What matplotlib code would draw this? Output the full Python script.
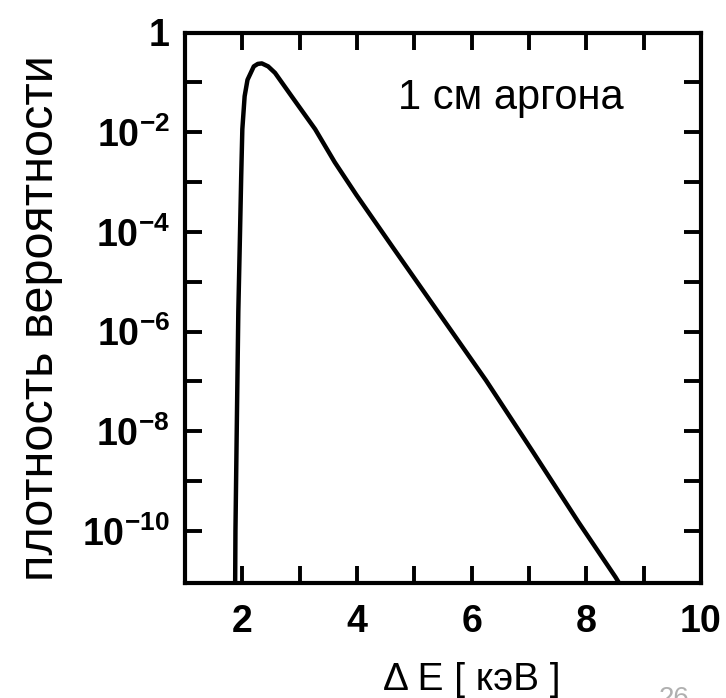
import matplotlib
matplotlib.use("Agg")
import matplotlib.pyplot as plt
from matplotlib import font_manager, ticker

# Data (energy loss in keV, log10 of probability density)
energy_kev = [1.87, 1.88, 1.90, 1.93, 1.96, 1.98, 2.00, 2.04, 2.09, 2.20, 2.27,
              2.34, 2.45, 2.57, 2.86, 3.27, 3.61, 3.99, 4.63, 5.44, 6.25,
              7.06, 7.86, 8.51, 8.60]
log10_density = [-12.0, -10.0, -8.2, -5.6, -4.0, -2.9, -1.94, -1.28, -0.95, -0.68,
                 -0.63, -0.62, -0.68, -0.81, -1.28, -1.94, -2.60, -3.26, -4.32,
                 -5.65, -6.98, -8.40, -9.82, -10.93, -11.1]

x_major = [2, 4, 6, 8, 10]
x_minor = [3, 5, 7, 9]
y_major = [1, 1e-2, 1e-4, 1e-6, 1e-8, 1e-10]
y_major_labels = ["1", r"$10^{-2}$", r"$10^{-4}$", r"$10^{-6}$", r"$10^{-8}$", r"$10^{-10}$"]
y_minor = [1e-1, 1e-3, 1e-5, 1e-7, 1e-9]

annotation = "1 см аргона"
xlabel = "Δ E [ кэВ ]"
ylabel = "плотность вероятности"
page_number = "26"

names = {f.name for f in font_manager.fontManager.ttflist}
narrow = 'Liberation Sans Narrow' if 'Liberation Sans Narrow' in names else 'Liberation Sans'

plt.rcParams['font.family'] = ['Liberation Sans', 'DejaVu Sans']
plt.rcParams['mathtext.default'] = 'regular'

W, H = 726, 698
fig = plt.figure(figsize=(W / 100, H / 100), dpi=100)
left, right, top, bottom = 185, 701, 32.5, 583
ax = fig.add_axes([left / W, 1 - bottom / H, (right - left) / W, (bottom - top) / H])

density = [10.0 ** v for v in log10_density]
ax.plot(energy_kev, density, color='black', lw=3.2, solid_joinstyle='round',
        solid_capstyle='round')

ax.set_yscale('log')
ax.set_xlim(1, 10)
ax.set_ylim(9e-12, 1)

tick_font = dict(family=[narrow, 'Liberation Sans', 'DejaVu Sans'], weight='bold', size=27)

ax.set_xticks(x_major)
ax.set_xticklabels([str(v) for v in x_major], **tick_font)
ax.set_xticks(x_minor, minor=True)
ax.set_yticks(y_major)
ax.set_yticklabels(y_major_labels, **tick_font)
ax.set_yticks(y_minor, minor=True)
ax.yaxis.set_minor_formatter(ticker.NullFormatter())
ax.xaxis.set_minor_formatter(ticker.NullFormatter())

for which in ('major', 'minor'):
    ax.tick_params(axis='both', which=which, direction='in', length=12, width=2.8,
                   top=True, right=True, color='black')
ax.tick_params(axis='x', which='major', pad=15)
ax.tick_params(axis='y', which='major', pad=11)

for s in ax.spines.values():
    s.set_linewidth(3.0)

ax.set_xlabel(xlabel, fontsize=28)
ax.xaxis.set_label_coords((472 - left) / (right - left), -(680 - bottom) / (bottom - top))
ax.xaxis.label.set_va('center')

ax.set_ylabel(ylabel, fontsize=35, va='center', ha='center')
ax.yaxis.set_label_coords((40 - left) / (right - left), 1 - (318 - top) / (bottom - top))

ax.text(4.71, 10 ** -1.54, annotation, fontsize=30, ha='left', va='baseline')

fig.text(674 / W, 1 - 686 / H, page_number, fontsize=20, color='#b0b0b0',
         ha='center', va='top')

fig.savefig("out.png", dpi=100)
